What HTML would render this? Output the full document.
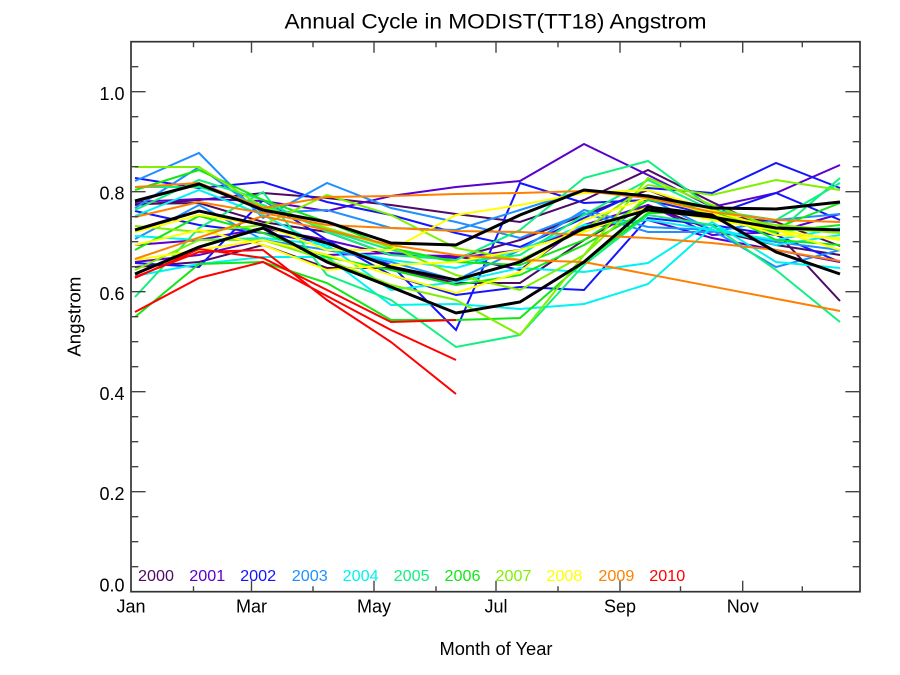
<!DOCTYPE html>
<html>
<head>
<meta charset="utf-8">
<style>
  html,body{margin:0;padding:0;background:#fff;}
  svg{display:block;}
  text{font-family:"Liberation Sans", Arial, sans-serif;}
</style>
</head>
<body>
<svg width="900" height="675" viewBox="0 0 900 675" xmlns="http://www.w3.org/2000/svg">
  <rect x="0" y="0" width="900" height="675" fill="#ffffff"/>

  <!-- Title -->
  <text x="495.5" y="28.3" font-size="21" text-anchor="middle" textLength="422" lengthAdjust="spacingAndGlyphs" fill="#000">Annual Cycle in MODIST(TT18) Angstrom</text>

  <!-- Data lines -->
  <g fill="none" stroke-width="2" stroke-linejoin="miter">
    <!-- 2000 -->
    <g stroke="#4e0a64">
      <polyline points="135,205 199,200 263,193 327,198 391,205 456,214 520,222 584,200 648,170 712,202 776,232 840,301"/>
      <polyline points="135,267 199,262 263,245 327,268 391,268 456,283 520,283 584,240 648,205 712,230 776,245 840,255"/>
      <polyline points="135,204 199,203 263,222 327,232 391,255 456,258 520,240 584,215 648,190 712,215 776,222 840,246"/>
    </g>
    <!-- 2001 -->
    <g stroke="#5a00cc">
      <polyline points="135,202 199,199 263,201 327,211 391,196 456,187 520,181 584,144 648,175 712,207 776,193 840,165"/>
      <polyline points="135,245 199,240 263,228 327,240 391,255 456,256 520,270 584,225 648,205 712,235 776,232 840,214"/>
      <polyline points="135,262 199,255 263,240 327,255 391,253 456,258 520,250 584,228 648,220 712,238 776,250 840,262"/>
    </g>
    <!-- 2002 -->
    <g stroke="#1414ff">
      <polyline points="135,178 199,188 263,182 327,202 391,215 456,233 520,247 584,218 648,188 712,193 776,163 840,188"/>
      <polyline points="135,211 199,225 263,233 327,243 391,265 456,330 520,183 584,203 648,200 712,215 776,193 840,220"/>
      <polyline points="135,263 199,267 263,200 327,240 391,275 456,295 520,287 584,290 648,218 712,225 776,235 840,262"/>
    </g>
    <!-- 2003 -->
    <g stroke="#1e90ff">
      <polyline points="135,181 199,153 263,218 327,183 391,208 456,222 520,238 584,213 648,232 712,232 776,220 840,214"/>
      <polyline points="135,208 199,167 263,213 327,210 391,228 456,230 520,210 584,190 648,198 712,230 776,242 840,250"/>
      <polyline points="135,239 199,205 263,240 327,250 391,262 456,280 520,250 584,210 648,227 712,230 776,267 840,250"/>
    </g>
    <!-- 2004 -->
    <g stroke="#00f2f2">
      <polyline points="135,276 199,264 263,257 327,257 391,305 456,304 520,309 584,304 648,284 712,227 776,245 840,235"/>
      <polyline points="135,236 199,240 263,238 327,245 391,290 456,282 520,268 584,272 648,263 712,222 776,262 840,268"/>
      <polyline points="135,216 199,190 263,215 327,248 391,260 456,268 520,250 584,225 648,220 712,230 776,240 840,228"/>
    </g>
    <!-- 2005 -->
    <g stroke="#10f080">
      <polyline points="135,297 199,228 263,192 327,275 391,300 456,347 520,335 584,265 648,215 712,225 776,270 840,322"/>
      <polyline points="135,210 199,180 263,200 327,232 391,255 456,260 520,230 584,178 648,161 712,208 776,233 840,178"/>
      <polyline points="135,187 199,187 263,205 327,230 391,250 456,262 520,255 584,215 648,180 712,210 776,220 840,183"/>
    </g>
    <!-- 2006 -->
    <g stroke="#14e614">
      <polyline points="135,317 199,264 263,262 327,283 391,320 456,320 520,318 584,262 648,213 712,212 776,228 840,203"/>
      <polyline points="135,250 199,216 263,233 327,257 391,270 456,285 520,275 584,245 648,210 712,218 776,232 840,225"/>
      <polyline points="135,190 199,170 263,200 327,222 391,248 456,262 520,265 584,240 648,200 712,208 776,240 840,245"/>
    </g>
    <!-- 2007 -->
    <g stroke="#80f000">
      <polyline points="135,167 199,167 263,207 327,228 391,247 456,275 520,290 584,255 648,195 712,215 776,225 840,230"/>
      <polyline points="135,226 199,232 263,225 327,195 391,215 456,248 520,260 584,230 648,185 712,195 776,180 840,190"/>
      <polyline points="135,270 199,240 263,240 327,260 391,285 456,300 520,335 584,255 648,178 712,205 776,228 840,233"/>
    </g>
    <!-- 2008 -->
    <g stroke="#ffff00">
      <polyline points="135,232 199,215 263,225 327,250 391,250 456,215 520,205 584,193 648,190 712,210 776,230 840,240"/>
      <polyline points="135,260 199,250 263,240 327,255 391,275 456,293 520,272 584,220 648,198 712,213 776,235 840,238"/>
      <polyline points="135,245 199,230 263,245 327,270 391,265 456,262 520,250 584,232 648,207 712,220 776,230 840,250"/>
    </g>
    <!-- 2009 -->
    <g stroke="#ff8000">
      <polyline points="135,187 199,183 263,208 327,197 391,196 456,194 520,193 584,191 648,198 712,212 776,220 840,222"/>
      <polyline points="135,217 199,202 263,213 327,225 391,228 456,231 520,232 584,235 648,238 712,243 776,250 840,261"/>
      <polyline points="135,259 263,216 327,230 391,245 456,255 520,260 584,262 840,311"/>
    </g>
    <!-- 2010 -->
    <g stroke="#ff0000">
      <polyline points="135,278 199,249 263,258 327,290 391,322 456,320"/>
      <polyline points="135,312 199,278 263,262 327,296 391,330 456,360"/>
      <polyline points="135,277 199,252 263,250 327,300 391,342 456,394"/>
    </g>
    <!-- Black (thicker) -->
    <g stroke="#000000" stroke-width="3">
      <polyline points="135,201 199,184 263,210 327,222 391,243 456,245 520,215 584,190 648,196 712,208 776,209 840,202"/>
      <polyline points="135,230 199,211 263,225 327,243 391,267 456,280 520,262 584,228 648,210 712,217 776,228 840,230"/>
      <polyline points="135,274 199,247 263,228 327,262 391,287 456,313 520,302 584,262 648,207 712,215 776,252 840,274"/>
    </g>
  </g>

  <!-- Frame -->
  <rect x="131" y="41.7" width="729" height="550" fill="none" stroke="#333" stroke-width="1.7"/>

  <!-- Y ticks left/right -->
  <path fill="none" stroke="#444" stroke-width="1.4" d="
    M131 566.7h7.3 M131 541.7h7.3 M131 516.7h7.3 M131 491.7h14.6
    M131 466.7h7.3 M131 441.7h7.3 M131 416.7h7.3 M131 391.7h14.6
    M131 366.7h7.3 M131 341.7h7.3 M131 316.7h7.3 M131 291.7h14.6
    M131 266.7h7.3 M131 241.7h7.3 M131 216.7h7.3 M131 191.7h14.6
    M131 166.7h7.3 M131 141.7h7.3 M131 116.7h7.3 M131 91.7h14.6
    M131 66.7h7.3
    M860 566.7h-7.3 M860 541.7h-7.3 M860 516.7h-7.3 M860 491.7h-14.6
    M860 466.7h-7.3 M860 441.7h-7.3 M860 416.7h-7.3 M860 391.7h-14.6
    M860 366.7h-7.3 M860 341.7h-7.3 M860 316.7h-7.3 M860 291.7h-14.6
    M860 266.7h-7.3 M860 241.7h-7.3 M860 216.7h-7.3 M860 191.7h-14.6
    M860 166.7h-7.3 M860 141.7h-7.3 M860 116.7h-7.3 M860 91.7h-14.6
    M860 66.7h-7.3
  "/>
  <!-- X ticks bottom/top -->
  <path fill="none" stroke="#444" stroke-width="1.4" d="
    M193.5 591.7v-5.5 M251.5 591.7v-11 M313 591.7v-5.5 M374 591.7v-11
    M436 591.7v-5.5 M496 591.7v-11 M558 591.7v-5.5 M620 591.7v-11
    M680.5 591.7v-5.5 M742.7 591.7v-11 M802.3 591.7v-5.5
    M193.5 41.7v5.5 M251.5 41.7v11 M313 41.7v5.5 M374 41.7v11
    M436 41.7v5.5 M496 41.7v11 M558 41.7v5.5 M620 41.7v11
    M680.5 41.7v5.5 M742.7 41.7v11 M802.3 41.7v5.5
  "/>

  <!-- Y tick labels -->
  <g font-size="18" text-anchor="end" fill="#000">
    <text x="124.5" y="100">1.0</text>
    <text x="124.5" y="199.5">0.8</text>
    <text x="124.5" y="300">0.6</text>
    <text x="124.5" y="400">0.4</text>
    <text x="124.5" y="500">0.2</text>
    <text x="124.5" y="591.5">0.0</text>
  </g>

  <!-- X tick labels -->
  <g font-size="18" text-anchor="middle" fill="#000">
    <text x="131" y="612.5">Jan</text>
    <text x="251.5" y="612.5">Mar</text>
    <text x="374" y="612.5">May</text>
    <text x="496" y="612.5">Jul</text>
    <text x="620" y="612.5">Sep</text>
    <text x="742.7" y="612.5">Nov</text>
  </g>

  <!-- Axis titles -->
  <text x="496" y="655" font-size="18" text-anchor="middle" textLength="113" lengthAdjust="spacingAndGlyphs" fill="#000">Month of Year</text>
  <text transform="translate(80.5,316.7) rotate(-90)" x="0" y="0" font-size="18.5" text-anchor="middle" textLength="80" lengthAdjust="spacingAndGlyphs" fill="#000">Angstrom</text>

  <!-- Legend -->
  <g font-size="16">
    <text x="138" y="581" fill="#4e0a64" textLength="36" lengthAdjust="spacingAndGlyphs">2000</text>
    <text x="189.3" y="581" fill="#5a00cc" textLength="36" lengthAdjust="spacingAndGlyphs">2001</text>
    <text x="240.2" y="581" fill="#1414ff" textLength="36" lengthAdjust="spacingAndGlyphs">2002</text>
    <text x="291.8" y="581" fill="#1e90ff" textLength="36" lengthAdjust="spacingAndGlyphs">2003</text>
    <text x="342.7" y="581" fill="#00f2f2" textLength="36" lengthAdjust="spacingAndGlyphs">2004</text>
    <text x="393.6" y="581" fill="#10f080" textLength="36" lengthAdjust="spacingAndGlyphs">2005</text>
    <text x="444.5" y="581" fill="#14e614" textLength="36" lengthAdjust="spacingAndGlyphs">2006</text>
    <text x="495.5" y="581" fill="#80f000" textLength="36" lengthAdjust="spacingAndGlyphs">2007</text>
    <text x="546.4" y="581" fill="#ffff00" textLength="36" lengthAdjust="spacingAndGlyphs">2008</text>
    <text x="598.4" y="581" fill="#ff8000" textLength="36" lengthAdjust="spacingAndGlyphs">2009</text>
    <text x="649.3" y="581" fill="#ff0000" textLength="36" lengthAdjust="spacingAndGlyphs">2010</text>
  </g>
</svg>
</body>
</html>
